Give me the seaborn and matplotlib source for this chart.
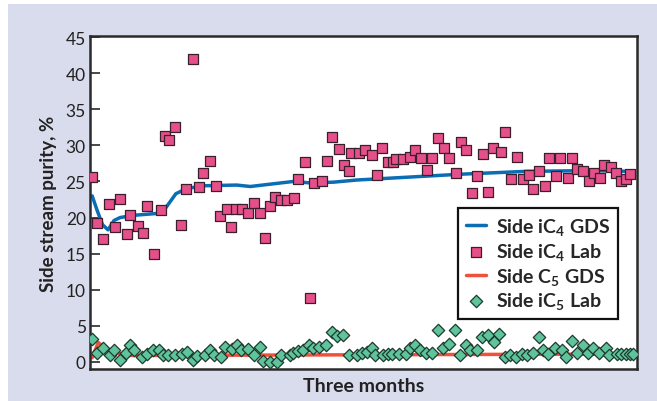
import matplotlib
matplotlib.use("Agg")
import numpy as np
import pandas as pd
import matplotlib.pyplot as plt
import seaborn as sns
from matplotlib.patches import Rectangle

# Datos (x = posicion dentro de los tres meses, escala 0-100)
ic4_lab_x = [0.3, 1.3, 2.3, 3.5, 4.6, 5.5, 6.7, 7.4, 8.7, 9.6, 10.4, 11.7, 12.9, 13.7, 14.5,
             15.5, 16.6, 17.6, 18.8, 19.9, 20.7, 21.9, 23.0, 23.8, 25.0, 25.8, 26.6, 27.8,
             28.9, 30.0, 31.1, 32.0, 32.9, 33.8, 34.9, 36.0, 37.3, 38.0, 39.3, 40.2, 41.0,
             42.4, 43.3, 44.3, 45.5, 46.4, 47.3, 47.8, 49.2, 50.3, 51.5, 52.4, 53.3, 54.5,
             55.4, 55.9, 57.2, 58.5, 59.4, 60.6, 61.6, 62.6, 63.6, 64.8, 65.6, 66.9, 67.8,
             68.7, 69.8, 70.7, 71.8, 72.8, 73.7, 75.1, 75.9, 77.0, 78.0, 79.1, 80.3, 80.9,
             82.1, 83.2, 83.9, 85.2, 85.9, 87.3, 88.1, 89.0, 90.1, 91.3, 92.2, 93.2, 94.0,
             95.2, 96.1, 97.1, 97.9, 98.7]
ic4_lab_y = [25.6, 19.2, 17.1, 21.9, 18.7, 22.6, 17.7, 20.4, 18.9, 17.9, 21.6, 15.0, 21.0, 31.3, 30.7,
             32.6, 19.0, 24.0, 41.9, 24.2, 26.2, 27.8, 24.4, 20.2, 21.2, 18.7, 21.2, 21.2,
             20.6, 22.0, 20.6, 17.2, 21.6, 22.8, 22.4, 22.4, 22.7, 25.3, 27.7, 8.8, 24.8,
             25.0, 27.8, 31.2, 29.5, 27.3, 26.4, 28.9, 28.9, 29.3, 28.7, 25.9, 29.6, 27.7,
             27.7, 28.1, 28.1, 28.4, 29.4, 28.3, 26.6, 28.3, 31.0, 29.7, 28.2, 26.2, 30.5,
             29.4, 23.4, 25.8, 28.8, 23.5, 29.6, 29.1, 31.8, 25.3, 28.4, 25.3, 25.9, 23.9,
             26.5, 24.4, 28.2, 25.8, 28.2, 25.5, 28.2, 26.7, 26.5, 25.0, 26.2, 25.5, 27.3,
             27.0, 26.2, 25.0, 25.3, 26.1]

ic4_gds_x = [0.4, 1.3, 2.3, 3.3, 4.4, 5.5, 7.8, 12.8, 13.9, 15.7, 17.6, 20.7, 26.8, 29.3,
             37.2, 40.2, 44.5, 48.8, 51.2, 67.7, 79.8, 91.4, 98.8]
ic4_gds_y = [23.0, 21.0, 19.0, 18.3, 19.6, 20.0, 20.3, 20.6, 21.4, 23.3, 24.0, 24.4, 24.5, 24.3,
             25.0, 24.8, 24.9, 25.2, 25.3, 26.0, 26.4, 26.5, 26.4]

c5_gds_x = [0.4, 1.5, 3.7, 7.3, 50.0, 96.3]
c5_gds_y = [0.6, 2.7, 1.4, 0.9, 1.0, 1.1]

ic5_lab_x = [0.4, 1.3, 2.3, 3.7, 4.4, 5.5, 6.6, 7.4, 8.0, 9.5, 10.5, 11.6, 12.7, 13.3, 14.3,
             15.5, 16.8, 17.7, 18.9, 19.5, 21.0, 21.9, 22.7, 23.9, 24.7, 25.9, 26.9, 27.6,
             28.9, 30.0, 31.1, 31.7, 32.9, 34.1, 35.0, 36.6, 37.2, 38.1, 39.0, 40.1, 40.8,
             41.9, 43.1, 44.2, 45.1, 46.3, 47.4, 48.8, 49.7, 50.6, 51.5, 52.1, 53.5, 54.5,
             55.3, 56.4, 57.8, 58.5, 59.4, 60.3, 61.4, 62.5, 63.7, 64.6, 65.7, 66.7, 67.6,
             68.7, 69.5, 70.7, 71.6, 72.8, 73.9, 74.8, 75.9, 76.8, 77.9, 78.9, 79.8, 81.0,
             82.0, 82.9, 83.8, 85.0, 86.2, 87.0, 88.1, 89.0, 90.1, 91.0, 92.0, 93.1, 94.3,
             94.9, 96.3, 97.1, 97.9, 98.7, 99.3]
ic5_lab_y = [3.2, 1.2, 2.0, 0.9, 1.6, 0.3, 1.2, 2.3, 1.7, 0.7, 1.1, 1.6, 1.7, 0.9, 0.9,
             0.9, 1.1, 1.4, 0.3, 0.8, 1.0, 1.7, 0.9, 0.7, 2.1, 1.8, 2.3, 1.7,
             1.8, 0.9, 2.1, 0.2, 0.0, 0.0, 0.9, 0.9, 1.3, 1.5, 1.7, 2.3, 1.9,
             2.1, 2.4, 4.2, 3.6, 3.7, 1.0, 1.0, 1.2, 1.4, 2.0, 0.9, 0.9, 1.1,
             1.1, 1.1, 1.1, 2.0, 2.3, 1.7, 1.2, 1.2, 4.4, 2.0, 2.5, 4.4, 1.0,
             2.3, 1.6, 1.7, 3.4, 3.8, 2.7, 3.9, 0.7, 0.9, 0.7, 1.1, 0.9, 1.2,
             3.4, 1.6, 1.1, 2.0, 1.7, 0.7, 2.9, 1.3, 2.4, 1.3, 1.9, 1.2, 1.9,
             1.0, 1.1, 1.1, 1.1, 1.1, 1.1]

y_ticks = [0, 5, 10, 15, 20, 25, 30, 35, 40, 45]

# Colores
fondo = "#d9dcec"
azul = "#0b6db3"
naranja = "#f0513a"
rosa = "#e6508a"
verde = "#5fc49c"
borde = "#2a2a2a"

sns.set_style("white")
plt.rcParams["font.family"] = ["Lato", "DejaVu Sans"]
plt.rcParams["mathtext.fontset"] = "custom"
plt.rcParams["mathtext.rm"] = "Lato:bold"
plt.rcParams["mathtext.it"] = "Lato:bold"
plt.rcParams["mathtext.default"] = "rm"

fig = plt.figure(figsize=(6.57, 4.02), dpi=100)
fig.patch.set_facecolor("white")
fig.add_artist(Rectangle((8 / 657, 0), 1 - 8 / 657, 1 - 5 / 402,
                         transform=fig.transFigure, facecolor=fondo,
                         edgecolor="none", zorder=-10))

ax = fig.add_axes([90 / 657, 1 - 370 / 402, 547 / 657, 333 / 402])
ax.set_facecolor("white")

df_ic4_gds = pd.DataFrame({"x": ic4_gds_x, "y": ic4_gds_y})
df_ic4_lab = pd.DataFrame({"x": ic4_lab_x, "y": ic4_lab_y})
df_c5_gds = pd.DataFrame({"x": c5_gds_x, "y": c5_gds_y})
df_ic5_lab = pd.DataFrame({"x": ic5_lab_x, "y": ic5_lab_y})

sns.lineplot(data=df_ic4_gds, x="x", y="y", ax=ax, color=azul, linewidth=2.5,
             label="Side iC$_4$ GDS", zorder=2)
sns.scatterplot(data=df_ic4_lab, x="x", y="y", ax=ax, marker="s", s=42, color=rosa,
                edgecolor="#3b1f2c", linewidth=0.9, label="Side iC$_4$ Lab", zorder=3)
sns.lineplot(data=df_c5_gds, x="x", y="y", ax=ax, color=naranja, linewidth=2.5,
             label="Side C$_5$ GDS", zorder=2)
sns.scatterplot(data=df_ic5_lab, x="x", y="y", ax=ax, marker="D", s=40, color=verde,
                edgecolor="#1d3a2e", linewidth=0.9, label="Side iC$_5$ Lab", zorder=3)

ax.set_xlim(0, 100)
ax.set_ylim(-0.97, 45.14)
ax.set_yticks(y_ticks)
ax.set_xticks([])
ax.tick_params(axis="y", direction="in", length=7, width=1.2, color=borde,
               labelsize=12.5, labelcolor="#222222", pad=3, left=True)
for s in ax.spines.values():
    s.set_color(borde)
    s.set_linewidth(1.8)
    s.set_visible(True)

ax.set_xlabel("Three months", fontsize=14, fontweight="bold", color="#222222", labelpad=6)
ax.set_ylabel("Side stream purity, %", fontsize=13.5, fontweight="bold", color="#222222", labelpad=6)

# Leyenda con esquina superior derecha en el mismo sitio que el original
leg = ax.legend(loc="upper right", bbox_to_anchor=(0.9653, 0.4835), borderaxespad=0,
                frameon=True, fancybox=False, edgecolor="#111111", framealpha=1,
                handlelength=1.0, handletextpad=0.55, borderpad=0.4, labelspacing=0.2,
                prop={"weight": "bold", "size": 14})
leg.get_frame().set_linewidth(1.6)

plt.savefig("out.png", dpi=100)
plt.close()
